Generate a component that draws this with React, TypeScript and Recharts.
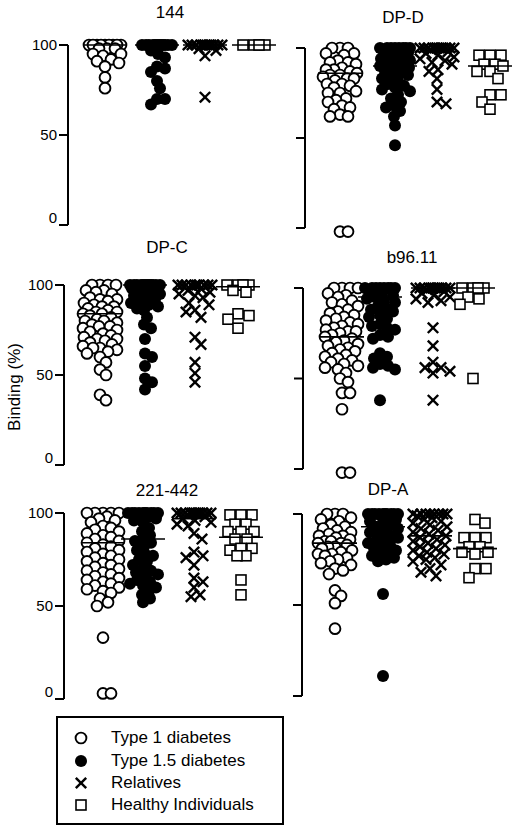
import { ScatterChart, Scatter, XAxis, YAxis, ReferenceLine } from "recharts";

const FONT = '"Liberation Sans", Arial, Helvetica, sans-serif';

const panelTitles = ["144", "DP-D", "DP-C", "b96.11", "221-442", "DP-A"];
const groupNames = ["Type 1 diabetes", "Type 1.5 diabetes", "Relatives", "Healthy Individuals"];
const yTicks = [0, 50, 100];

// 144
const type1_144 = [100, 100, 100, 100, 100, 100, 100, 100, 100, 98, 98, 98, 95, 95, 94, 92, 91, 90, 88, 82, 76];
const type15_144 = [100, 100, 100, 100, 100, 100, 100, 100, 100, 100, 100, 100, 97, 95, 93, 88, 87, 85, 80, 76, 70, 70, 67];
const rel_144 = [100, 100, 100, 100, 100, 100, 100, 100, 100, 100, 100, 100, 98, 97, 94, 71];
const healthy_144 = [100, 100, 100, 100];
const medians_144 = [100, 100, 100, 100];

// DP-D
const type1_dpd = [100, 100, 100, 97, 97, 96, 93, 92, 92, 91, 89, 88, 88, 87, 86, 85, 85, 84, 83, 83, 82, 80, 80, 79, 78, 76, 75, 75, 72, 71, 70, 68, 67, 66, 63, 62, 62, -2, -2];
const type15_dpd = [100, 100, 100, 100, 100, 100, 100, 100, 98, 98, 97, 96, 95, 94, 93, 92, 91, 90, 90, 89, 88, 87, 86, 85, 84, 83, 82, 80, 79, 78, 77, 76, 74, 72, 70, 68, 67, 65, 62, 57, 46];
const rel_dpd = [100, 100, 100, 100, 100, 100, 100, 100, 100, 100, 100, 100, 99, 98, 97, 96, 95, 94, 93, 92, 91, 88, 87, 83, 77, 70, 69];
const healthy_dpd = [96, 96, 96, 91, 91, 90, 87, 87, 83, 74, 74, 70, 66];
const medians_dpd = [86, 90, 98, 90];

// DP-C
const type1_dpc = [100, 100, 100, 100, 97, 97, 96, 95, 93, 92, 92, 91, 90, 89, 88, 88, 87, 86, 85, 85, 84, 84, 83, 82, 81, 80, 80, 79, 78, 77, 77, 76, 75, 74, 73, 72, 71, 70, 70, 69, 68, 67, 66, 65, 65, 64, 63, 62, 60, 57, 53, 50, 39, 36];
const type15_dpc = [100, 100, 100, 100, 100, 100, 100, 100, 100, 100, 100, 100, 99, 99, 98, 98, 97, 96, 95, 94, 93, 92, 91, 90, 89, 88, 87, 86, 82, 78, 76, 70, 62, 60, 55, 48, 46, 42];
const rel_dpc = [100, 100, 100, 100, 100, 100, 100, 100, 100, 100, 99, 98, 97, 96, 95, 94, 93, 90, 89, 86, 85, 82, 71, 67, 57, 51, 46];
const healthy_dpc = [100, 100, 100, 100, 97, 96, 84, 83, 81, 76];
const medians_dpc = [84, 100, 98, 99];

// b96.11
const type1_b96 = [100, 100, 100, 100, 97, 96, 95, 93, 92, 91, 90, 88, 87, 86, 85, 84, 83, 82, 81, 80, 79, 78, 77, 76, 76, 75, 74, 73, 72, 71, 70, 69, 68, 67, 66, 65, 64, 63, 62, 61, 60, 59, 58, 57, 56, 55, 53, 50, 48, 42, 42, 33, -2, -2];
const type15_b96 = [100, 100, 100, 100, 100, 100, 100, 100, 98, 97, 96, 95, 94, 93, 92, 90, 89, 88, 87, 85, 84, 83, 80, 79, 78, 77, 74, 73, 72, 64, 62, 61, 58, 57, 56, 55, 38];
const rel_b96 = [100, 100, 100, 100, 100, 100, 100, 100, 100, 100, 100, 100, 99, 98, 97, 96, 95, 94, 93, 92, 78, 68, 59, 56, 56, 54, 53, 38];
const healthy_b96 = [100, 100, 100, 100, 95, 94, 91, 50];
const medians_b96 = [73, 95, 100, 100];

// 221-442
const type1_221 = [100, 100, 100, 100, 100, 98, 97, 96, 95, 93, 92, 91, 90, 89, 88, 87, 86, 85, 84, 83, 82, 81, 80, 79, 78, 77, 76, 75, 74, 73, 72, 71, 70, 69, 68, 67, 66, 65, 64, 63, 62, 61, 60, 59, 58, 57, 54, 52, 50, 33, 3, 3];
const type15_221 = [100, 100, 100, 100, 100, 100, 100, 100, 100, 100, 99, 98, 97, 96, 95, 92, 90, 88, 86, 85, 84, 82, 80, 78, 77, 75, 74, 72, 70, 69, 68, 67, 66, 64, 63, 62, 61, 60, 58, 56, 54, 52];
const rel_221 = [100, 100, 100, 100, 100, 100, 100, 100, 100, 100, 100, 100, 99, 98, 97, 96, 95, 94, 93, 89, 86, 79, 77, 76, 72, 65, 63, 60, 56, 55];
const healthy_221 = [99, 99, 99, 94, 94, 90, 90, 90, 86, 86, 81, 81, 80, 77, 77, 64, 56];
const medians_221 = [84, 86, 97, 87];

// DP-A
const type1_dpa = [100, 100, 100, 98, 97, 96, 94, 93, 92, 91, 90, 89, 88, 88, 87, 86, 85, 85, 84, 84, 83, 82, 82, 81, 80, 79, 78, 78, 77, 76, 75, 74, 73, 72, 70, 69, 67, 58, 55, 51, 37];
const type15_dpa = [100, 100, 100, 100, 100, 100, 100, 100, 100, 100, 99, 98, 97, 96, 95, 94, 93, 92, 91, 90, 89, 88, 87, 86, 85, 84, 83, 82, 81, 80, 79, 78, 77, 76, 75, 74, 56, 11];
const rel_dpa = [100, 100, 100, 100, 100, 100, 100, 100, 99, 98, 97, 96, 95, 94, 93, 92, 91, 90, 89, 88, 87, 86, 85, 84, 83, 82, 81, 80, 79, 78, 77, 76, 75, 74, 72, 70, 68, 66];
const healthy_dpa = [97, 95, 87, 87, 87, 82, 82, 79, 79, 78, 70, 70, 65];
const medians_dpa = [84, 93, 88, 81];

const panelGroups = [
  [type1_144, type15_144, rel_144, healthy_144],
  [type1_dpd, type15_dpd, rel_dpd, healthy_dpd],
  [type1_dpc, type15_dpc, rel_dpc, healthy_dpc],
  [type1_b96, type15_b96, rel_b96, healthy_b96],
  [type1_221, type15_221, rel_221, healthy_221],
  [type1_dpa, type15_dpa, rel_dpa, healthy_dpa],
];
const panelMedians = [medians_144, medians_dpd, medians_dpc, medians_b96, medians_221, medians_dpa];

// page layout of each panel (px)
const layout = [
  { axisX: 68, y100: 45, y0: 225, centers: [37, 89, 137, 186], titleX: 170, titleY: 13, labels: true },
  { axisX: 305, y100: 48, y0: 228, centers: [35, 90, 132, 185], titleX: 403, titleY: 18, labels: false },
  { axisX: 64, y100: 285, y0: 465, centers: [36, 81, 131, 174], titleX: 167, titleY: 248, labels: true },
  { axisX: 303, y100: 288, y0: 469, centers: [39, 77, 130, 170], titleX: 412, titleY: 258, labels: false },
  { axisX: 64, y100: 513, y0: 699, centers: [39, 79, 130, 177], titleX: 167, titleY: 491, labels: true },
  { axisX: 302, y100: 514, y0: 696, centers: [33, 81, 128, 173], titleX: 388, titleY: 490, labels: false },
];

const LO = -8;
const YW = 45;
const PW = 215;
const MT = 12;
const MB = 12;
const spread = [17, 15, 17, 13];
const spacing = [8, 7.5, 9, 10.5];

// dot-plot layout: push overlapping points sideways
function swarm(values: number[], center: number, s: number, dia: number, half: number) {
  const placed: { x: number; py: number }[] = [];
  const out: { x: number; y: number }[] = [];
  const sorted = [...values].sort((a, b) => b - a);
  for (const v of sorted) {
    const py = v * s;
    let best = 0;
    let bestD = -1;
    for (let k = 0; k <= 2 * half; k++) {
      const off = k % 2 ? (k + 1) / 2 : -k / 2;
      let m = Infinity;
      for (const p of placed) {
        const d = Math.hypot(p.x - off, p.py - py);
        if (d < m) m = d;
      }
      if (m >= dia) {
        best = off;
        break;
      }
      if (m > bestD) {
        bestD = m;
        best = off;
      }
    }
    placed.push({ x: best, py });
    out.push({ x: center + best, y: v });
  }
  return out;
}

const OpenCircle = (p: any) => (
  <circle cx={p.cx} cy={p.cy} r={5.4} fill="#fff" stroke="#000" strokeWidth={1.9} />
);
const FilledCircle = (p: any) => <circle cx={p.cx} cy={p.cy} r={6} fill="#000" />;
const Cross = (p: any) => (
  <g stroke="#000" strokeWidth={2.4}>
    <line x1={p.cx - 5.2} y1={p.cy - 5.2} x2={p.cx + 5.2} y2={p.cy + 5.2} />
    <line x1={p.cx - 5.2} y1={p.cy + 5.2} x2={p.cx + 5.2} y2={p.cy - 5.2} />
  </g>
);
const Square = (p: any) => (
  <rect x={p.cx - 5} y={p.cy - 5} width={10} height={10} fill="#fff" stroke="#000" strokeWidth={1.6} />
);
const MedianBar = (p: any) => (
  <line x1={p.cx - 22} x2={p.cx + 22} y1={p.cy} y2={p.cy} stroke="#000" strokeWidth={1.6} />
);
const shapes = [OpenCircle, FilledCircle, Cross, Square];

function Panel({ idx }: { idx: number }) {
  const L = layout[idx];
  const s = (L.y0 - L.y100) / 100;
  const plotH = (100 - LO) * s;
  const medianPoints = panelMedians[idx].map((m, g) => ({ x: L.centers[g], y: m }));
  const tick = (props: any) => {
    const v = props.payload.value;
    return (
      <g>
        <line x1={YW - 9} x2={YW} y1={props.y} y2={props.y} stroke="#000" strokeWidth={2} />
        {L.labels && (
          <text
            x={YW - 11}
            y={props.y + (v === 0 ? -2 : 5)}
            textAnchor="end"
            fontSize={15}
            fontFamily={FONT}
            fill="#000"
          >
            {v}
          </text>
        )}
      </g>
    );
  };
  return (
    <>
      <div
        style={{
          position: "absolute",
          left: L.titleX - 60,
          top: L.titleY - 10,
          width: 120,
          textAlign: "center",
          fontSize: 17,
          lineHeight: "20px",
          fontFamily: FONT,
        }}
      >
        {panelTitles[idx]}
      </div>
      <div style={{ position: "absolute", left: L.axisX - YW, top: L.y100 - MT }}>
        <ScatterChart
          width={YW + PW}
          height={MT + plotH + MB}
          margin={{ top: MT, right: 0, bottom: MB, left: 0 }}
        >
          <XAxis type="number" dataKey="x" domain={[0, PW]} hide />
          <YAxis
            type="number"
            dataKey="y"
            domain={[LO, 100]}
            ticks={yTicks}
            interval={0}
            width={YW}
            axisLine={false}
            tickLine={false}
            tick={tick}
          />
          <ReferenceLine
            segment={[
              { x: 0, y: 0 },
              { x: 0, y: 100 },
            ]}
            stroke="#000"
            strokeWidth={2}
            ifOverflow="visible"
          />
          {panelGroups[idx].map((vals, g) => (
            <Scatter
              key={g}
              name={groupNames[g]}
              data={swarm(vals, L.centers[g], s, spacing[g], spread[g])}
              shape={shapes[g]}
              isAnimationActive={false}
            />
          ))}
          <Scatter name="median" data={medianPoints} shape={MedianBar} isAnimationActive={false} />
        </ScatterChart>
      </div>
    </>
  );
}

const legendRows = [738, 761, 783, 805];

function LegendMarker({ g }: { g: number }) {
  const S = shapes[g];
  return (
    <svg width={16} height={16} style={{ position: "absolute", left: -8, top: -8 }}>
      <S cx={8} cy={8} />
    </svg>
  );
}

export default function App() {
  return (
    <div style={{ position: "relative", width: 520, height: 831, background: "#fff", fontFamily: FONT }}>
      <style>{"body{margin:0}"}</style>
      {panelTitles.map((_, i) => (
        <Panel key={i} idx={i} />
      ))}
      <div
        style={{
          position: "absolute",
          left: 15 - 60,
          top: 387 - 10,
          width: 120,
          height: 20,
          lineHeight: "20px",
          textAlign: "center",
          fontSize: 17,
          transform: "rotate(-90deg)",
        }}
      >
        Binding (%)
      </div>
      <div
        style={{
          position: "absolute",
          left: 56,
          top: 716,
          width: 228,
          height: 109,
          border: "2px solid #000",
          boxSizing: "border-box",
        }}
      />
      {groupNames.map((name, g) => (
        <div key={name}>
          <div style={{ position: "absolute", left: 81, top: legendRows[g] }}>
            <LegendMarker g={g} />
          </div>
          <div
            style={{
              position: "absolute",
              left: 111,
              top: legendRows[g] - 11,
              fontSize: 17,
              lineHeight: "22px",
              whiteSpace: "nowrap",
            }}
          >
            {name}
          </div>
        </div>
      ))}
    </div>
  );
}
